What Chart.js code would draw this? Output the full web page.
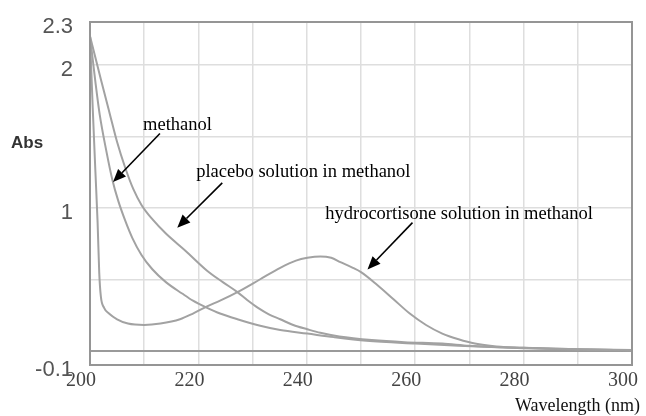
<!DOCTYPE html>
<html>
<head>
<meta charset="utf-8">
<script src="https://cdn.jsdelivr.net/npm/chart.js@4/dist/chart.umd.min.js"></script>
<style>
  body { margin: 0; background: #fff; }
  #wrap { width: 646px; height: 416px; }
</style>
</head>
<body>
<div id="wrap"><canvas id="uv" width="646" height="416"></canvas></div>
<script>
// spectra: wavelength (nm) and absorbance
const hydroNm  = [200, 200.5, 201, 201.4, 201.7, 202, 202.6, 203.5, 205, 207, 210, 213, 216.6, 219, 221.6, 224, 227.2, 231.4, 235.1, 238, 240.1, 242.5, 244.5, 246.2, 248.5, 250, 253, 256, 259, 262, 265, 268, 271, 275, 280, 290, 300];
const hydroAbs = [2.2, 1.7, 1.25, 0.9, 0.55, 0.38, 0.3, 0.26, 0.22, 0.19, 0.18, 0.19, 0.22, 0.26, 0.31, 0.35, 0.41, 0.5, 0.58, 0.63, 0.65, 0.66, 0.65, 0.62, 0.58, 0.55, 0.46, 0.36, 0.26, 0.18, 0.12, 0.08, 0.05, 0.03, 0.02, 0.01, 0.005];

const methNm  = [200, 201, 201.8, 203, 204.1, 205.2, 206.5, 207.8, 209.5, 211.5, 214, 217, 219, 221.6, 224, 227.2, 231.4, 235.1, 240.1, 245, 251, 260, 268, 280, 290, 300];
const methAbs = [2.2, 1.88, 1.65, 1.4, 1.2, 1.05, 0.91, 0.79, 0.67, 0.57, 0.48, 0.4, 0.35, 0.3, 0.26, 0.22, 0.175, 0.145, 0.12, 0.095, 0.07, 0.05, 0.035, 0.017, 0.008, 0.003];

const placNm  = [200, 202, 203.7, 205, 206.5, 208, 209.5, 211.5, 214, 217.6, 221.6, 224.5, 227.2, 229, 231, 233, 235.1, 237.5, 240.1, 242.5, 246, 252, 258, 265, 270, 280, 290, 300];
const placAbs = [2.2, 1.9, 1.65, 1.46, 1.28, 1.13, 1.02, 0.92, 0.82, 0.7, 0.56, 0.48, 0.41, 0.355, 0.3, 0.255, 0.22, 0.18, 0.15, 0.125, 0.1, 0.075, 0.06, 0.05, 0.035, 0.02, 0.01, 0.003];

const xTicks = [200, 210, 220, 230, 240, 250, 260, 270, 280, 290, 300];
const yTicks = [-0.1, 0, 0.5, 1, 1.5, 2, 2.3];
const yLabels = { '-0.1': '-0.1', '1': '1', '2': '2', '2.3': '2.3' };

// labels with arrows, in data units
const notes = [
  { text: 'methanol', at: [209.8, 1.576], from: [212.9, 1.52], to: [204.25, 1.18] },
  { text: 'placebo solution in methanol', at: [219.6, 1.25], from: [224.4, 1.174], to: [216.1, 0.861] },
  { text: 'hydrocortisone solution in methanol', at: [243.4, 0.958], from: [259.5, 0.896], to: [251.2, 0.569] }
];

const pts = (xs, ys) => xs.map((x, i) => ({ x: x, y: ys[i] }));
const curve = (label, data) => ({
  label: label,
  data: data,
  borderColor: '#a2a2a2',
  borderWidth: 2,
  pointRadius: 0,
  cubicInterpolationMode: 'monotone',
  fill: false
});

function arrow(ctx, x1, y1, x2, y2) {
  const a = Math.atan2(y2 - y1, x2 - x1);
  const len = 13, half = 5.5;
  const bx = x2 - len * Math.cos(a), by = y2 - len * Math.sin(a);
  ctx.beginPath();
  ctx.moveTo(x1, y1);
  ctx.lineTo(bx, by);
  ctx.stroke();
  ctx.beginPath();
  ctx.moveTo(x2, y2);
  ctx.lineTo(bx + half * Math.sin(a), by - half * Math.cos(a));
  ctx.lineTo(bx - half * Math.sin(a), by + half * Math.cos(a));
  ctx.closePath();
  ctx.fill();
}

const extras = {
  id: 'extras',
  afterDraw(chart) {
    const { ctx, chartArea: ca, scales: { x, y } } = chart;
    ctx.save();
    // frame
    ctx.strokeStyle = '#959595';
    ctx.lineWidth = 2;
    ctx.strokeRect(ca.left, ca.top, ca.right - ca.left, ca.bottom - ca.top);

    // y title
    ctx.fillStyle = '#333';
    ctx.font = 'bold 17px "Liberation Sans", Arial, sans-serif';
    ctx.textAlign = 'left';
    ctx.textBaseline = 'middle';
    ctx.fillText('Abs', 11, y.getPixelForValue(1.45));

    // x title
    ctx.fillStyle = '#111';
    ctx.font = '18px "Liberation Serif", "Times New Roman", serif';
    ctx.textAlign = 'right';
    ctx.fillText('Wavelength (nm)', chart.width - 6, 406);

    // notes
    ctx.textAlign = 'left';
    ctx.font = '18.5px "Liberation Serif", "Times New Roman", serif';
    ctx.strokeStyle = '#000';
    ctx.fillStyle = '#000';
    ctx.lineWidth = 1.6;
    notes.forEach(n => {
      ctx.fillText(n.text, x.getPixelForValue(n.at[0]), y.getPixelForValue(n.at[1]));
      arrow(ctx,
        x.getPixelForValue(n.from[0]), y.getPixelForValue(n.from[1]),
        x.getPixelForValue(n.to[0]), y.getPixelForValue(n.to[1]));
    });
    ctx.restore();
  }
};

new Chart(document.getElementById('uv'), {
  type: 'line',
  data: {
    datasets: [
      curve('hydrocortisone solution in methanol', pts(hydroNm, hydroAbs)),
      curve('methanol', pts(methNm, methAbs)),
      curve('placebo solution in methanol', pts(placNm, placAbs))
    ]
  },
  options: {
    responsive: false,
    animation: false,
    layout: { padding: { left: 0, top: 22, right: 14, bottom: 0 } },
    plugins: { legend: { display: false }, tooltip: { enabled: false } },
    scales: {
      x: {
        type: 'linear',
        min: 200,
        max: 300,
        afterBuildTicks: s => { s.ticks = xTicks.map(v => ({ value: v })); },
        afterFit: s => { s.height = 51; s.paddingLeft = 0; s.paddingRight = 0; },
        border: { display: false },
        grid: { color: '#dedede', lineWidth: 1.5, drawTicks: false },
        ticks: {
          callback: v => (v % 20 === 0 ? String(v) : ''),
          autoSkip: false,
          maxRotation: 0,
          labelOffset: -9,
          padding: 4,
          color: '#444',
          font: { family: '"Liberation Serif", "Times New Roman", serif', size: 20 }
        }
      },
      y: {
        min: -0.1,
        max: 2.3,
        afterBuildTicks: s => { s.ticks = yTicks.map(v => ({ value: v })); },
        afterFit: s => { s.width = 90; s.paddingTop = 0; s.paddingBottom = 0; },
        border: { display: false },
        grid: {
          drawTicks: false,
          color: c => (c.tick && c.tick.value === 0 ? '#9a9a9a' : '#dedede'),
          lineWidth: c => (c.tick && c.tick.value === 0 ? 2 : 1.5)
        },
        ticks: {
          callback: v => yLabels[String(v)] || '',
          autoSkip: false,
          padding: 17,
          labelOffset: 5,
          color: '#555',
          font: { family: '"Liberation Sans", Arial, sans-serif', size: 22 }
        }
      }
    }
  },
  plugins: [extras]
});
</script>
</body>
</html>
